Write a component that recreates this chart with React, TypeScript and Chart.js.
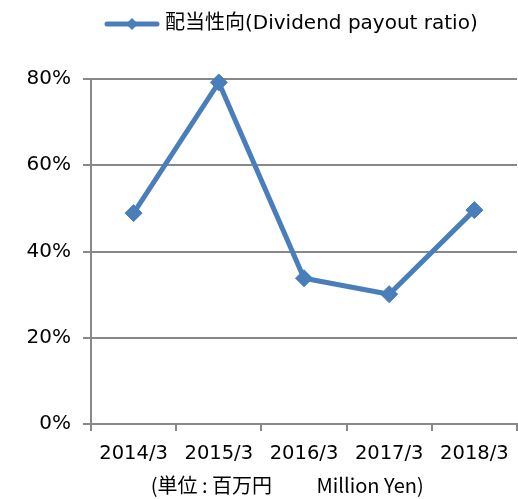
import React, { useEffect, useRef } from "react";
import { Chart, registerables } from "chart.js";

Chart.register(...registerables);

const categories: string[] = ["2014/3", "2015/3", "2016/3", "2017/3", "2018/3"];
const payoutRatio: number[] = [48.9, 79.2, 33.8, 30.1, 49.6];
const seriesLabel = "配当性向(Dividend payout ratio)";
const unitLabel = "(単位 : 百万円　　 Million Yen)　   ";
const yMin = 0;
const yMax = 80;
const yStep = 20;

const LINE_COLOR = "#4A7EBB";
const GRID_COLOR = "#888888";
const FONT = '"DejaVu Sans", "Noto Sans CJK JP", sans-serif';
const CJK_FONT = '"Noto Sans CJK JP", "DejaVu Sans", sans-serif';
const LEGEND_X = 109;
const LEGEND_GAP = 35;

function makeLegendMarker(color: string): HTMLCanvasElement {
  const c = document.createElement("canvas");
  c.width = 56;
  c.height = 14;
  const ctx = c.getContext("2d")!;
  ctx.strokeStyle = color;
  ctx.lineWidth = 5;
  ctx.lineCap = "round";
  ctx.beginPath();
  ctx.moveTo(3, 7);
  ctx.lineTo(53, 7);
  ctx.stroke();
  ctx.fillStyle = color;
  ctx.beginPath();
  ctx.moveTo(28, 1);
  ctx.lineTo(34, 7);
  ctx.lineTo(28, 13);
  ctx.lineTo(22, 7);
  ctx.closePath();
  ctx.fill();
  return c;
}

const legendTweak = {
  id: "legendTweak",
  beforeLayout(chart: any) {
    const lg = chart.legend;
    if (lg && !lg.__patched) {
      const orig = lg.fit;
      lg.fit = function () {
        orig.call(this);
        this.height += LEGEND_GAP;
      };
      lg.__patched = true;
    }
  },
  afterLayout(chart: any) {
    const lg = chart.legend;
    if (lg && lg.lineWidths) {
      lg.lineWidths[0] = lg.left + 10 + lg.right - 2 * LEGEND_X;
    }
  },
};

export default function App() {
  const ref = useRef<HTMLCanvasElement | null>(null);

  useEffect(() => {
    if (!ref.current) return;
    const marker = makeLegendMarker(LINE_COLOR);
    const chart = new Chart(ref.current, {
      type: "line",
      data: {
        labels: categories,
        datasets: [
          {
            label: seriesLabel,
            data: payoutRatio,
            borderColor: LINE_COLOR,
            backgroundColor: LINE_COLOR,
            borderWidth: 5,
            pointStyle: "rectRot",
            pointRadius: 8.5,
            pointBorderWidth: 1,
            pointBackgroundColor: LINE_COLOR,
            pointBorderColor: LINE_COLOR,
            tension: 0,
            fill: false,
            clip: false as any,
          },
        ],
      },
      options: {
        responsive: false,
        animation: false,
        devicePixelRatio: 1,
        layout: { autoPadding: false, padding: { top: 4, left: 0, right: 1, bottom: 0 } },
        plugins: {
          legend: {
            display: true,
            position: "top",
            align: "center",
            labels: {
              usePointStyle: true,
              pointStyle: marker as any,
              pointStyleWidth: 46,
              color: "#000",
              padding: 10,
              font: { family: FONT, size: 20 },
            },
          },
          tooltip: { enabled: false },
        },
        scales: {
          x: {
            type: "category",
            offset: true,
            grid: {
              offset: true,
              drawOnChartArea: false,
              drawTicks: true,
              tickLength: 7,
              color: GRID_COLOR,
              lineWidth: 2,
            },
            border: { display: true, color: GRID_COLOR, width: 2 },
            ticks: {
              color: "#000",
              padding: 11,
              maxRotation: 0,
              autoSkip: false,
              font: { family: FONT, size: 19.5 },
            },
            title: {
              display: true,
              text: unitLabel,
              color: "#000",
              padding: { top: 0, bottom: 2 },
              font: { family: CJK_FONT, size: 20, lineHeight: 1.2 },
            },
            afterFit: (scale: any) => {
              scale.height = 75;
              scale.paddingLeft = 0;
              scale.paddingRight = 0;
            },
          },
          y: {
            min: yMin,
            max: yMax,
            grid: {
              color: GRID_COLOR,
              lineWidth: 2,
              tickLength: 8,
              drawTicks: true,
            },
            border: { display: true, color: GRID_COLOR, width: 2 },
            ticks: {
              stepSize: yStep,
              color: "#000",
              padding: 12,
              font: { family: FONT, size: 20 },
              callback: (v: any) => `${v}%`,
            },
            afterFit: (scale: any) => {
              scale.width = 91;
            },
          },
        },
      },
      plugins: [legendTweak],
    });
    return () => chart.destroy();
  }, []);

  return (
    <div style={{ position: "fixed", left: 0, top: 0, width: 518, height: 499, background: "#fff" }}>
      <canvas ref={ref} width={518} height={499} style={{ display: "block" }} />
    </div>
  );
}
